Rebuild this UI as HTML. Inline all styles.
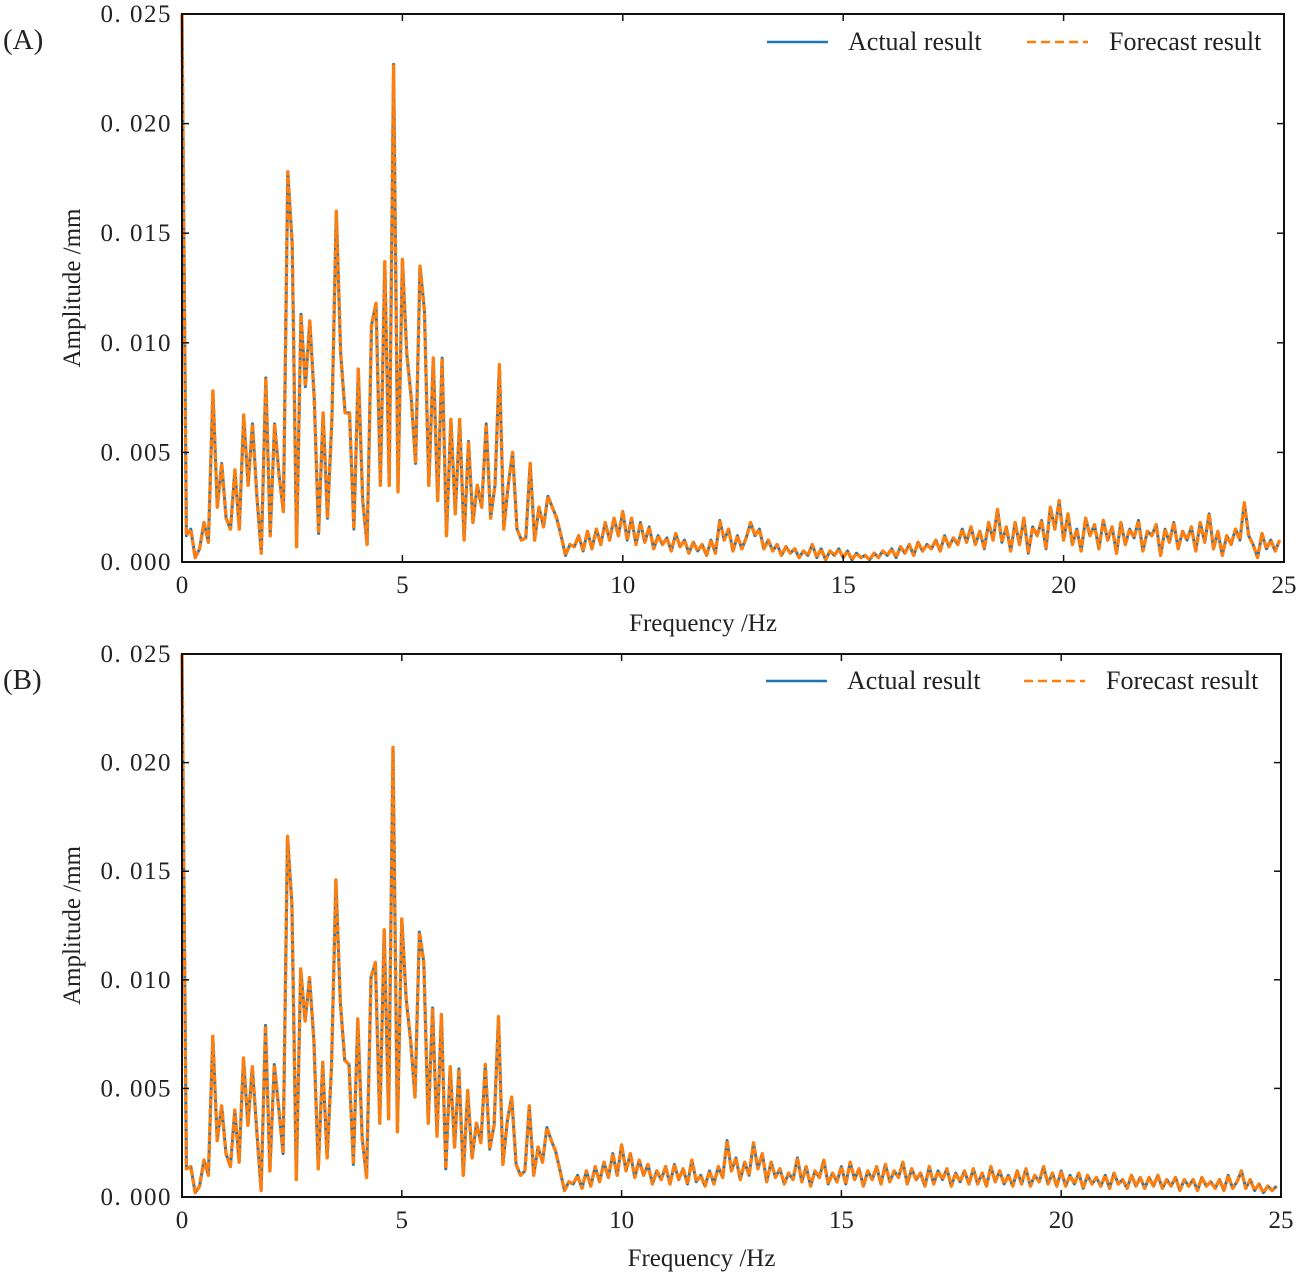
<!DOCTYPE html>
<html><head><meta charset="utf-8"><style>
body{margin:0;background:#fff}
svg text{font-family:"Liberation Serif","Noto Serif CJK SC",serif;fill:#222}
</style></head><body>
<svg id="chart" width="1301" height="1277" xmlns="http://www.w3.org/2000/svg"></svg>
<script>
const yTicks=[0,0.005,0.010,0.015,0.020,0.025];
const yTickLabels=["0. 000","0. 005","0. 010","0. 015","0. 020","0. 025"];
const xTicks=[0,5,10,15,20,25];
const xTickLabels=["0","5","10","15","20","25"];
const freqStep=0.1;
// amplitudes in units of 0.001 mm, one per 0.1 Hz from 0 to 25 Hz
const ampA=[25,1.2,1.5,0.2,0.6,1.8,0.9,7.8,2.5,4.5,2.0,1.5,4.2,1.5,6.7,3.5,6.3,3.0,0.4,8.4,1.2,6.3,4.0,2.3,17.8,14.5,0.7,11.3,8.0,11.0,7.5,1.3,6.8,2.0,6.5,16.0,9.5,6.8,6.8,1.5,8.8,2.8,0.8,10.8,11.8,3.5,13.7,3.5,22.7,3.2,13.8,9.5,7.5,4.5,13.5,11.5,3.5,9.3,2.8,9.3,1.2,6.5,2.2,6.5,1.0,5.5,1.8,3.5,2.5,6.3,2.0,3.5,9.0,1.5,3.5,5.0,1.5,1.0,1.1,4.5,1.0,2.5,1.6,3.0,2.5,2.0,1.2,0.3,0.8,0.7,
1.2,0.5,1.4,0.6,1.5,0.8,1.8,1.0,2.0,1.2,
2.3,1.0,2.0,0.8,1.8,0.9,1.6,0.6,1.2,0.8,
1.1,0.5,1.3,0.7,1.0,0.4,0.9,0.5,0.8,0.3,
1.0,0.4,1.9,1.0,1.5,0.5,1.2,0.6,1.1,1.8,
1.2,1.5,0.6,1.0,0.5,0.8,0.3,0.7,0.4,0.6,
0.2,0.5,0.3,0.8,0.2,0.6,0.1,0.5,0.3,0.6,
0.2,0.5,0.1,0.4,0.2,0.3,0.1,0.4,0.2,0.5,
0.3,0.6,0.2,0.7,0.4,0.8,0.3,0.9,0.5,0.8,
0.6,1.0,0.5,1.2,0.7,1.1,0.8,1.5,0.9,1.6,
0.8,1.4,0.6,1.8,1.0,2.4,0.9,1.6,0.5,1.8,
0.8,2.0,0.4,1.6,1.2,1.9,0.6,2.5,1.5,2.8,
1.0,2.2,0.8,1.5,0.5,2.0,1.2,1.7,0.6,1.9,
1.0,1.6,0.4,1.8,0.8,1.5,1.1,1.9,0.5,1.4,
1.2,1.7,0.3,1.5,0.9,1.8,0.6,1.4,1.0,1.6,
0.5,1.8,0.9,2.2,0.6,1.4,0.3,1.2,0.8,1.5,
1.0,2.7,1.2,0.8,0.2,1.3,0.6,1.0,0.5,1.0];
const ampB=[25,1.3,1.4,0.2,0.5,1.7,1.0,7.4,2.6,4.2,2.0,1.4,4.0,1.6,6.4,3.3,6.0,3.1,0.3,7.9,1.2,6.1,4.1,2.0,16.6,13.5,0.8,10.5,8.1,10.1,7.2,1.3,6.2,1.8,6.0,14.6,9.0,6.3,6.1,1.5,8.2,2.7,0.9,10.1,10.8,3.4,12.3,3.6,20.7,3.0,12.8,9.1,7.2,4.6,12.2,10.8,3.4,8.7,2.8,8.4,1.3,6.0,2.3,5.9,1.0,4.9,1.8,3.4,2.5,6.1,2.2,3.3,8.3,1.5,3.5,4.6,1.5,1.0,1.2,4.2,1.0,2.3,1.6,3.2,2.6,2.1,1.2,0.3,0.7,0.6,
1.0,0.4,1.2,0.5,1.4,0.7,1.6,0.9,2.0,1.0,
2.4,1.2,2.0,0.9,1.7,1.0,1.5,0.6,1.2,0.8,
1.4,0.6,1.5,0.8,1.3,0.6,1.7,0.7,1.0,0.5,
1.2,0.6,1.4,0.9,2.6,1.2,1.8,0.8,1.6,1.0,
2.5,1.3,2.0,0.7,1.6,0.9,1.3,0.6,1.1,0.8,
1.8,0.7,1.4,0.5,1.2,0.9,1.7,0.6,1.1,0.7,
1.4,0.6,1.6,0.8,1.3,0.5,1.2,0.8,1.4,0.6,
1.5,0.7,1.2,0.9,1.6,0.6,1.3,0.8,1.1,0.5,
1.4,0.6,1.2,0.8,1.3,0.5,1.1,0.7,1.2,0.6,
1.3,0.6,1.1,0.5,1.4,0.7,1.2,0.6,1.0,0.5,
1.2,0.6,1.3,0.5,1.0,0.7,1.4,0.6,1.1,0.5,
1.2,0.5,1.0,0.6,1.1,0.4,1.0,0.6,0.9,0.5,
1.0,0.4,1.1,0.6,0.8,0.4,1.0,0.5,0.9,0.4,
0.9,0.5,1.0,0.4,0.8,0.5,0.9,0.3,0.8,0.5,
0.8,0.3,0.9,0.5,0.7,0.4,0.8,0.3,1.0,0.4,
0.7,1.2,0.4,0.8,0.3,0.6,0.2,0.5,0.3,0.5];

const NS="http://www.w3.org/2000/svg";
const svg=document.getElementById('chart');
function mk(tag,attrs,parent){const e=document.createElementNS(NS,tag);for(const k in attrs)e.setAttribute(k,attrs[k]);(parent||svg).appendChild(e);return e;}

function panel(id,label,amp,L,T,R,B,legY,leg1,leg2){
  const g=mk('g',{});
  
  
  const xs=f=>L+(f/25)*(R-L);
  const ys=v=>B-(v/0.025)*(B-T);
  let d='';
  amp.forEach((a,i)=>{const x=xs(i*freqStep),y=ys(a/1000);d+=(i?'L':'M')+x.toFixed(1)+','+y.toFixed(1);});
  const blue=mk('path',{d:d,fill:'none',stroke:'#1f77b4','stroke-width':3,'stroke-linejoin':'round'},g);
  
  
  const org=mk('path',{d:d,fill:'none',stroke:'#ff7f0e','stroke-width':3.4,'stroke-dasharray':'7,2','stroke-linejoin':'round'},g);
  
  
  const frame=mk('rect',{x:L,y:T,width:R-L,height:B-T,fill:'none',stroke:'#111','stroke-width':2},g);
  
  
  yTicks.forEach((v,i)=>{
    const y=ys(v);
    mk('line',{x1:L,x2:L+7,y1:y,y2:y,stroke:'#111','stroke-width':1.5},g);
    mk('line',{x1:R,x2:R-7,y1:y,y2:y,stroke:'#111','stroke-width':1.5},g);
    const t=mk('text',{x:172,y:y+8,'text-anchor':'end','font-size':25,'letter-spacing':1.5},g);
    t.textContent=yTickLabels[i];
    
    
  });
  xTicks.forEach((v,i)=>{
    const x=xs(v);
    mk('line',{x1:x,x2:x,y1:B,y2:B-7,stroke:'#111','stroke-width':1.5},g);
    mk('line',{x1:x,x2:x,y1:T,y2:T+7,stroke:'#111','stroke-width':1.5},g);
    const t=mk('text',{x:x,y:B+31,'text-anchor':'middle','font-size':25},g);
    t.textContent=xTickLabels[i];
    
    
  });
  const xt=mk('text',{x:(L+R)/2-30,y:B+69,'text-anchor':'middle','font-size':25},g);
  xt.textContent='Frequency /Hz';
  
  
  const yt=mk('text',{x:0,y:0,'text-anchor':'middle','font-size':25,transform:`translate(80,${(T+B)/2}) rotate(-90)`},g);
  yt.textContent='Amplitude /mm';
  
  
  const pl=mk('text',{x:3,y:T+35,'font-size':29},g);
  pl.textContent=label;
  
  
  const lg=mk('g',{},g);
  
  
  mk('line',{x1:leg1,x2:leg1+61,y1:legY,y2:legY,stroke:'#1f77b4','stroke-width':2.5},lg);
  const t1=mk('text',{x:leg1+81,y:legY+8,'font-size':26},lg);
  t1.textContent='Actual result';
  
  
  mk('line',{x1:leg2,x2:leg2+61,y1:legY,y2:legY,stroke:'#ff7f0e','stroke-width':2.5,'stroke-dasharray':'9,5'},lg);
  const t2=mk('text',{x:leg2+82,y:legY+8,'font-size':26},lg);
  t2.textContent='Forecast result';
  
  
}
panel('a','(A)',ampA,182,14,1284,562,42,767,1027);
panel('b','(B)',ampB,182,654,1281,1197,681,766,1024);
</script>
</body></html>
